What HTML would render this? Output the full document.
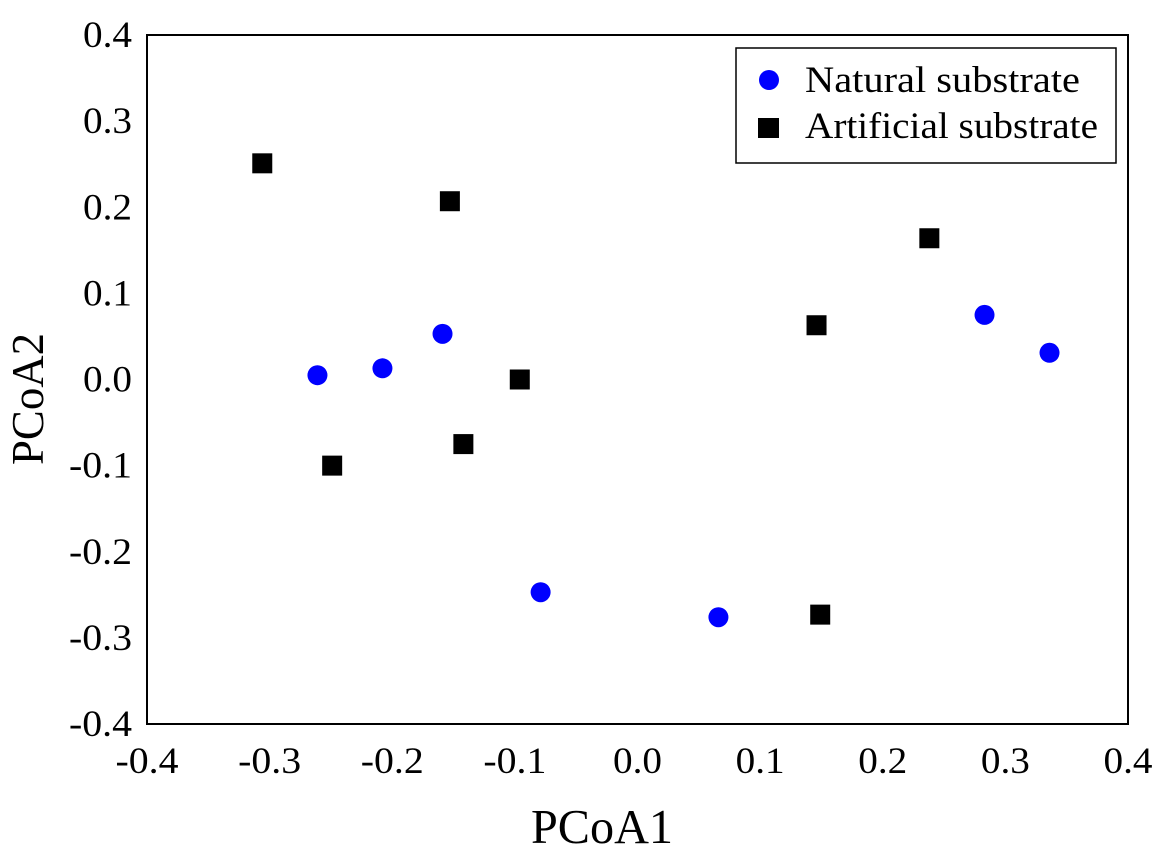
<!DOCTYPE html>
<html><head><meta charset="utf-8"><style>
body{margin:0;background:#fff;}
text{font-family:"Liberation Serif",serif;fill:#000;}
</style></head><body>
<svg id="chart" width="1168" height="852" xmlns="http://www.w3.org/2000/svg">
<rect x="147" y="35" width="981" height="689" fill="none" stroke="#000" stroke-width="2"/>
<g id="ticks"></g><g id="marks"></g>
<text x="602" y="843" font-size="49" text-anchor="middle" textLength="142" lengthAdjust="spacingAndGlyphs">PCoA1</text>
<text transform="translate(43,399) rotate(-90)" font-size="46" text-anchor="middle" textLength="132" lengthAdjust="spacingAndGlyphs">PCoA2</text>
<g>
<rect x="736" y="48" width="380" height="115" fill="#fff" stroke="#000" stroke-width="1.5"/>
<circle cx="769" cy="80" r="10" fill="#0000ff"/>
<text x="805" y="92" font-size="37" textLength="275" lengthAdjust="spacingAndGlyphs">Natural substrate</text>
<rect x="758" y="118" width="21" height="20" fill="#000"/>
<text x="805" y="138" font-size="37" textLength="293" lengthAdjust="spacingAndGlyphs">Artificial substrate</text>
</g>
</svg>
<script>
const ticks=[-0.4,-0.3,-0.2,-0.1,0.0,0.1,0.2,0.3,0.4];
const natX=[-0.261,-0.208,-0.159,-0.079,0.066,0.283,0.336];
const natY=[0.005,0.013,0.053,-0.247,-0.276,0.075,0.031];
const artX=[-0.306,-0.153,-0.096,-0.142,-0.249,0.146,0.238,0.149];
const artY=[0.251,0.207,0.0,-0.075,-0.100,0.063,0.164,-0.273];
const NS="http://www.w3.org/2000/svg";
const sx=v=>147+(v+0.4)/0.8*981, sy=v=>724-(v+0.4)/0.8*689;
const tg=document.getElementById('ticks'), mg=document.getElementById('marks');
ticks.forEach(t=>{
 const lab=t.toFixed(1);
 const w=t<0?63:49;
 let a=document.createElementNS(NS,'text');
 
 
 a.setAttribute('x',sx(t));a.setAttribute('y',773);a.setAttribute('font-size','37');a.setAttribute('text-anchor','middle');
 a.setAttribute('textLength',w);a.setAttribute('lengthAdjust','spacingAndGlyphs');
 a.textContent=lab;tg.appendChild(a);
 let b=document.createElementNS(NS,'text');
 
 
 b.setAttribute('x',132-w);b.setAttribute('y',sy(t)+12);b.setAttribute('font-size','37');
 b.setAttribute('textLength',w);b.setAttribute('lengthAdjust','spacingAndGlyphs');
 b.textContent=lab;tg.appendChild(b);
});
natX.forEach((x,i)=>{
 let c=document.createElementNS(NS,'circle');
 
 
 c.setAttribute('cx',sx(x));c.setAttribute('cy',sy(natY[i]));c.setAttribute('r',10);c.setAttribute('fill','#0000ff');
 mg.appendChild(c);
});
artX.forEach((x,i)=>{
 let r=document.createElementNS(NS,'rect');
 
 
 r.setAttribute('x',sx(x)-10);r.setAttribute('y',sy(artY[i])-10);r.setAttribute('width',20);r.setAttribute('height',20);r.setAttribute('fill','#000');
 mg.appendChild(r);
});
</script>
</body></html>
